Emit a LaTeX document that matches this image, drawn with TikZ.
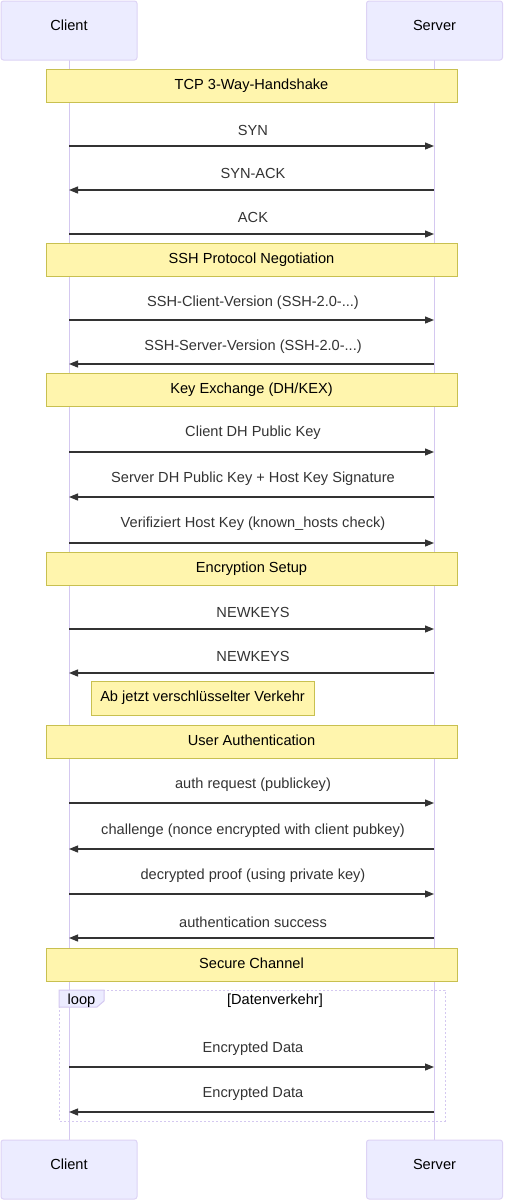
\documentclass[tikz,border=0pt]{standalone}
\usepackage{fontspec}
\setmainfont{Liberation Sans}
\usetikzlibrary{arrows.meta}
\definecolor{actfill}{HTML}{ECECFF}
\definecolor{actline}{HTML}{DDD3F5}
\definecolor{lifeln}{HTML}{D4C8F0}
\definecolor{notefill}{HTML}{FFF5AD}
\definecolor{noteline}{HTML}{C8C050}
\definecolor{txt}{HTML}{333333}
\newcommand\mydots{...}
\tikzset{
  actor/.style={draw=actline, fill=actfill, line width=1pt, rounded corners=2.5pt, minimum width=136pt, minimum height=59pt, inner sep=0pt, text=black, font=\fontsize{14.6}{17}\selectfont},
  lbl/.style={font=\fontsize{14.6}{17}\selectfont, text=txt, inner sep=0pt},
  note/.style={draw=noteline, fill=notefill, line width=1pt, minimum width=411pt, minimum height=33pt, inner sep=0pt, font=\fontsize{14.6}{17}\selectfont, text=black},
  msg/.style={draw=txt, line width=1.2pt, -{Triangle[length=9pt,width=7pt]}},
  life/.style={draw=lifeln, line width=1pt},
}
\begin{document}
\begin{tikzpicture}[x=1pt,y=-1pt]
\useasboundingbox (0,0) rectangle (504,1200);
% lifelines
\coordinate (ctop) at (69,60); \coordinate (cbot) at (69,1140);
\coordinate (stop) at (434,60); \coordinate (sbot) at (434,1140);
\draw[life] (ctop) -- (cbot);
\draw[life] (stop) -- (sbot);
% actors
\node[actor] (clientT) at (69,30.5) {\raisebox{0pt}[0pt][0pt]{Client}};
\node[actor] (serverT) at (434.5,30.5) {\raisebox{0pt}[0pt][0pt]{Server}};
\node[actor] (clientB) at (69,1169.5) {\raisebox{0pt}[0pt][0pt]{Client}};
\node[actor] (serverB) at (434.5,1169.5) {\raisebox{0pt}[0pt][0pt]{Server}};
% loop box
\draw[draw=lifeln, line width=1pt, dash pattern=on 2pt off 2pt] (59,990) rectangle (445,1121);
\draw[draw=lifeln, fill=actfill, line width=1pt] (59,990) -- (104,990) -- (104,1001) -- (97,1007) -- (59,1007) -- cycle;
\node[lbl, text=black] (looplbl) at (81.5,1001) {loop};
\node[lbl, text=black] (loopcond) at (275,1001) {[Datenverkehr]};
% notes
\node[note] (n1) at (251.5,85.5) {\raisebox{3pt}{TCP 3-Way-Handshake}};
\node[note] (n2) at (251.5,259.5) {\raisebox{3pt}{SSH Protocol Negotiation}};
\node[note] (n3) at (251.5,389.5) {\raisebox{3pt}{Key Exchange (DH/KEX)}};
\node[note] (n4) at (251.5,568.5) {\raisebox{3pt}{Encryption Setup}};
\node[note] (n5) at (251.5,741.5) {\raisebox{3pt}{User Authentication}};
\node[note] (n6) at (251.5,964.5) {\raisebox{3pt}{Secure Channel}};
\node[note, minimum width=223pt, minimum height=34pt] (n7) at (202.5,698) {\raisebox{2pt}{Ab jetzt verschlüsselter Verkehr}};
% messages
\foreach \i/\y/\ly/\dir/\t in {
 1/146/130/r/{SYN},
 2/190/173/l/{SYN-ACK},
 3/234/217/r/{ACK},
 4/320/303/r/{SSH-Client-Version (SSH-2.0-\mydots)},
 5/364/347/l/{SSH-Server-Version (SSH-2.0-\mydots)},
 6/452/433/r/{Client DH Public Key},
 7/497/479/l/{Server DH Public Key + Host Key Signature},
 8/543/524/r/{Verifiziert Host Key (known\_hosts check)},
 9/629/612/r/{NEWKEYS},
 10/673/656/l/{NEWKEYS},
 11/803/785/r/{auth request (publickey)},
 12/849/831/l/{challenge (nonce encrypted with client pubkey)},
 13/894/876/r/{decrypted proof (using private key)},
 14/938/922/l/{authentication success},
 15/1067/1049/r/{Encrypted Data},
 16/1112/1094/l/{Encrypted Data}}{
  \coordinate (c\i) at (69,\y);
  \coordinate (s\i) at (434,\y);
  \node[lbl] (m\i) at (253,\ly) {\t};
  \if\dir r \draw[msg] (c\i) -- (s\i); \else \draw[msg] (s\i) -- (c\i); \fi
}
\end{tikzpicture}
\end{document}
